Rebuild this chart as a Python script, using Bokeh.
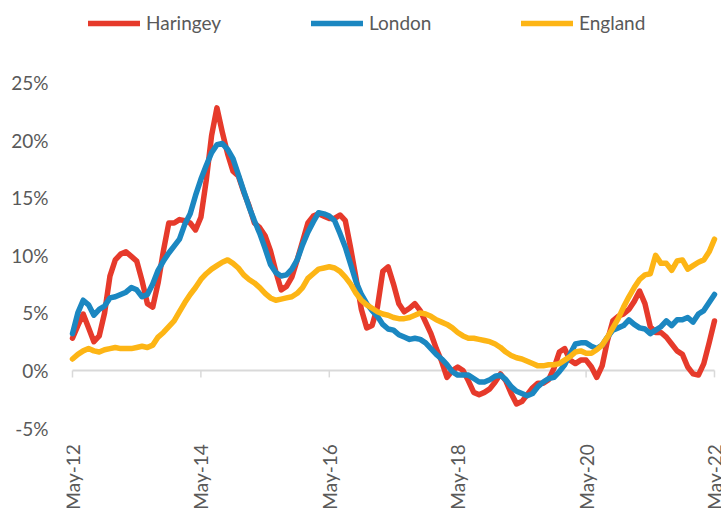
import math
from bokeh.plotting import figure
from bokeh.models import Range1d, FixedTicker, Legend, LegendItem
from bokeh.core.properties import value
from bokeh.embed import file_html
from bokeh.resources import INLINE

# Annual house price change (%), monthly May-12 .. May-22
haringey = [
    2.8, 3.9, 4.9, 3.7, 2.5, 3.0, 5.0, 8.2, 9.6, 10.1,
    10.3, 9.9, 9.5, 7.8, 5.8, 5.5, 7.6, 10.4, 12.8, 12.8,
    13.1, 13.0, 12.8, 12.2, 13.3, 16.5, 20.4, 22.8, 20.7, 18.8,
    17.3, 16.9, 15.5, 14.3, 12.8, 12.4, 11.7, 10.4, 8.6, 7.0,
    7.3, 8.1, 9.6, 11.2, 12.8, 13.4, 13.6, 13.4, 13.2, 13.2,
    13.5, 13.0, 10.6, 8.0, 5.3, 3.7, 3.9, 5.5, 8.6, 9.0,
    7.5, 5.8, 5.1, 5.4, 5.8, 5.2, 4.2, 3.2, 1.9, 0.8,
    -0.6, 0.0, 0.3, 0.0, -0.9, -1.9, -2.1, -1.9, -1.6, -1.0,
    -0.3, -0.9, -2.0, -2.9, -2.7, -2.1, -1.5, -1.1, -1.1, -0.8,
    0.2, 1.6, 1.9, 0.9, 0.6, 0.9, 0.9, 0.3, -0.6, 0.4,
    2.6, 4.3, 4.7, 4.9, 5.3, 6.0, 6.9, 5.8, 3.8, 3.3,
    3.3, 2.9, 2.3, 1.7, 1.4, 0.3, -0.3, -0.4, 0.6, 2.4,
    4.3,
]
london = [
    3.2, 5.0, 6.1, 5.7, 4.8, 5.3, 5.6, 6.3, 6.4, 6.6,
    6.8, 7.2, 7.0, 6.4, 6.6, 7.5, 8.7, 9.5, 10.2, 10.8,
    11.4, 12.7, 13.6, 15.2, 16.6, 17.8, 18.9, 19.6, 19.7, 19.2,
    18.4, 17.0, 15.6, 14.2, 13.0, 11.9, 10.6, 9.2, 8.5, 8.2,
    8.3, 8.8, 9.6, 10.9, 12.0, 12.9, 13.7, 13.6, 13.4, 13.0,
    11.9, 10.7, 9.2, 7.7, 6.6, 5.8, 5.2, 4.7, 4.0, 3.6,
    3.5, 3.1, 2.9, 2.7, 2.8, 2.7, 2.4, 1.9, 1.4, 1.0,
    0.5, -0.1, -0.4, -0.4, -0.4, -0.7, -1.0, -1.0, -0.8, -0.5,
    -0.4, -0.8, -1.4, -1.8, -2.0, -2.2, -2.0, -1.4, -1.0, -0.7,
    -0.6, -0.1, 0.5, 1.4, 2.3, 2.4, 2.4, 2.1, 1.9, 2.2,
    2.9, 3.5, 3.7, 3.9, 4.4, 4.0, 3.7, 3.6, 3.2, 3.5,
    3.8, 4.3, 3.9, 4.4, 4.4, 4.6, 4.2, 4.9, 5.2, 5.9,
    6.6,
]
england = [
    1.0, 1.4, 1.7, 1.9, 1.7, 1.6, 1.8, 1.9, 2.0, 1.9,
    1.9, 1.9, 2.0, 2.1, 2.0, 2.2, 2.9, 3.3, 3.8, 4.3,
    5.1, 5.9, 6.6, 7.2, 7.9, 8.4, 8.8, 9.1, 9.4, 9.6,
    9.3, 8.9, 8.3, 7.9, 7.6, 7.2, 6.7, 6.3, 6.1, 6.2,
    6.3, 6.4, 6.7, 7.2, 8.0, 8.4, 8.8, 8.9, 9.0, 8.9,
    8.6, 8.1, 7.5, 6.7, 6.1, 5.7, 5.4, 5.1, 4.9, 4.8,
    4.6, 4.5, 4.5, 4.6, 4.8, 5.0, 4.9, 4.7, 4.4, 4.2,
    4.0, 3.7, 3.3, 3.0, 2.8, 2.8, 2.7, 2.6, 2.5, 2.3,
    2.0, 1.6, 1.3, 1.1, 1.0, 0.8, 0.6, 0.4, 0.4, 0.5,
    0.5, 0.6, 0.9, 1.2, 1.6, 1.7, 1.5, 1.5, 1.8, 2.2,
    2.9, 3.7, 4.5, 5.5, 6.4, 7.2, 7.9, 8.3, 8.4, 10.0,
    9.3, 9.3, 8.7, 9.5, 9.6, 8.8, 9.1, 9.4, 9.6, 10.3,
    11.4,
]
series_names = ["Haringey", "London", "England"]
tick_months = [0, 24, 48, 72, 96, 120]
tick_labels = ["May-12", "May-14", "May-16", "May-18", "May-20", "May-22"]
y_ticks = [-5, 0, 5, 10, 15, 20, 25]
y_tick_labels = ["-5%", "0%", "5%", "10%", "15%", "20%", "25%"]

months = list(range(len(haringey)))

RED = "#E63A2B"
BLUE = "#1B87C1"
YELLOW = "#FDB515"
GREY_TXT = "#595959"
AXIS_GREY = "#D9D9D9"
FONT = "Lato"
FS = "19px"

p = figure(width=721, height=515, output_backend="svg", toolbar_location=None,
           x_range=Range1d(-1.12, 121.31), y_range=Range1d(-12.59, 32.12),
           min_border_left=66, min_border_right=0, min_border_top=0,
           min_border_bottom=0, x_axis_location=None)
p.outline_line_color = None
p.grid.visible = False
p.background_fill_color = "white"

yax = p.yaxis[0]
yax.ticker = FixedTicker(ticks=y_ticks)
yax.major_label_overrides = dict(zip(y_ticks, y_tick_labels))
yax.axis_line_color = None
yax.major_tick_line_color = None
yax.minor_tick_line_color = None
yax.major_tick_out = 0
yax.major_label_standoff = 18
yax.major_label_text_font = FONT
yax.major_label_text_font_size = FS
yax.major_label_text_color = GREY_TXT

# horizontal axis line at 0% with tick marks
p.segment(x0=[tick_months[0]], y0=[0], x1=[tick_months[-1]], y1=[0],
          line_color=AXIS_GREY, line_width=2)
p.segment(x0=tick_months, y0=[0] * len(tick_months), x1=tick_months,
          y1=[-0.6] * len(tick_months), line_color=AXIS_GREY, line_width=1.5)

# x tick labels (low position, rotated)
p.text(x=tick_months, y=[-6.4] * len(tick_months), text=tick_labels,
       angle=math.pi / 2, text_align="right", text_baseline="middle",
       text_font=value(FONT), text_font_size=FS, text_color=GREY_TXT)

rs = []
for data, col in [(haringey, RED), (london, BLUE), (england, YELLOW)]:
    r = p.line(months, data, line_color=col, line_width=5.5,
               line_join="round", line_cap="round")
    rs.append(r)

for r, name, lx in zip(rs, series_names, [22, 245, 455]):
    leg = Legend(items=[LegendItem(label=name, renderers=[r])],
                 location=(lx, 481), orientation="horizontal",
                 glyph_width=52, glyph_height=20, label_height=20,
                 label_standoff=6, padding=0, margin=0,
                 border_line_color=None, background_fill_alpha=0,
                 label_text_font=FONT, label_text_font_size=FS,
                 label_text_color=GREY_TXT)
    p.add_layout(leg)

open("out.html", "w").write(file_html(p, INLINE))
